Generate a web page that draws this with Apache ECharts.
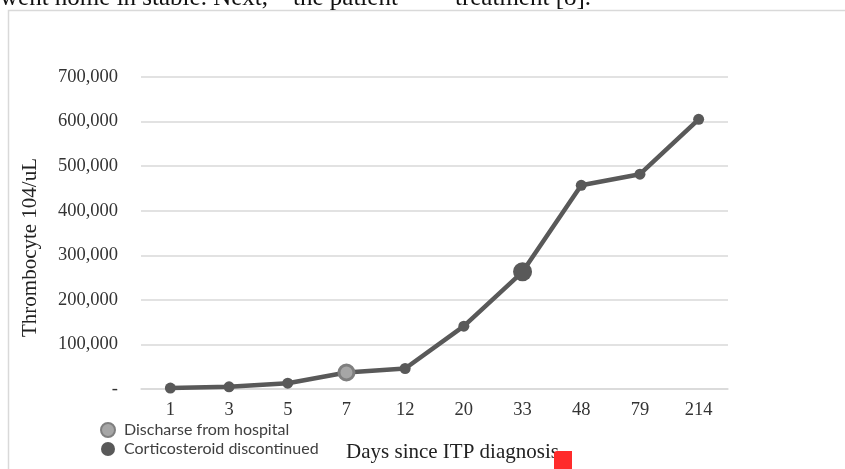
<!DOCTYPE html>
<html>
<head>
<meta charset="utf-8">
<script src="https://cdn.jsdelivr.net/npm/echarts@6/dist/echarts.min.js"></script>
<style>
  html, body { margin: 0; padding: 0; background: #fff; }
  #chart { width: 845px; height: 469px; }
</style>
</head>
<body>
<div id="chart"></div>
<script>
const days = ['1', '3', '5', '7', '12', '20', '33', '48', '79', '214'];
const thrombocytes = [2000, 5000, 13000, 37000, 46000, 141000, 263000, 457000, 482000, 605000];
const yTicks = { min: 0, max: 700000, step: 100000 };
const dischargeDay = '7';
const steroidStopDay = '33';

const serif = '"Liberation Serif", "DejaVu Serif", serif';
const valueAt = (day) => thrombocytes[days.indexOf(day)];

const chart = echarts.init(document.getElementById('chart'), null, { renderer: 'canvas' });

const option = {
  animation: false,
  backgroundColor: '#ffffff',
  grid: { left: 141, right: 117, top: 77, bottom: 80 },
  legend: {
    orient: 'vertical',
    left: 95,
    top: 417,
    itemWidth: 16,
    itemHeight: 14,
    itemGap: 3,
    icon: 'circle',
    data: ['Discharse from hospital', 'Corticosteroid discontinued'],
    textStyle: { fontFamily: 'Lato', fontSize: 16, color: '#404040', padding: [0, 0, 0, 3] },
  },
  xAxis: {
    type: 'category',
    data: days,
    name: 'Days since ITP diagnosis',
    nameLocation: 'middle',
    nameGap: 53,
    nameTextStyle: { fontFamily: serif, fontSize: 21, color: '#222', padding: [0, 0, 0, 36] },
    axisLine: { lineStyle: { color: '#d9d9d9', width: 1.5 } },
    axisTick: { show: false },
    axisLabel: { fontFamily: serif, fontSize: 18.5, color: '#333', margin: 12 },
  },
  yAxis: {
    type: 'value',
    min: yTicks.min,
    max: yTicks.max,
    interval: yTicks.step,
    name: 'Thrombocyte 104/uL',
    nameLocation: 'middle',
    nameGap: 100,
    nameTextStyle: { fontFamily: serif, fontSize: 21, color: '#222', padding: [0, 29, 0, 0] },
    axisLine: { show: false },
    axisTick: { show: false },
    splitLine: { lineStyle: { color: '#d9d9d9', width: 1.5 } },
    axisLabel: {
      fontFamily: serif,
      fontSize: 18.5,
      color: '#333',
      margin: 23,
      formatter: (v) => (v === 0 ? '-' : v.toLocaleString('en-US')),
    },
  },
  series: [
    {
      name: 'Thrombocyte',
      type: 'line',
      data: thrombocytes,
      symbol: 'circle',
      symbolSize: 11,
      lineStyle: { color: '#595959', width: 4.5 },
      itemStyle: { color: '#595959' },
      z: 2,
    },
    {
      name: 'Discharse from hospital',
      type: 'scatter',
      data: [[dischargeDay, valueAt(dischargeDay)]],
      symbol: 'circle',
      symbolSize: 15,
      itemStyle: { color: '#a6a6a6', borderColor: '#7f7f7f', borderWidth: 3, opacity: 1 },
      z: 3,
    },
    {
      name: 'Corticosteroid discontinued',
      type: 'scatter',
      data: [[steroidStopDay, valueAt(steroidStopDay)]],
      symbol: 'circle',
      symbolSize: 19,
      itemStyle: { color: '#595959', opacity: 1 },
      z: 3,
    },
  ],
  graphic: [
    {
      type: 'rect',
      shape: { x: 8.5, y: 10.5, width: 1000, height: 1000 },
      style: { fill: 'none', stroke: '#d9d9d9', lineWidth: 1.5 },
      silent: true,
    },
    {
      type: 'text',
      x: 0,
      y: -2,
      style: { text: 'went home in stable. Next,', font: '25px ' + serif, fill: '#111', verticalAlign: 'middle' },
    },
    {
      type: 'text',
      x: 293,
      y: -2,
      style: { text: 'the patient', font: '25px ' + serif, fill: '#111', verticalAlign: 'middle' },
    },
    {
      type: 'text',
      x: 455,
      y: -2,
      style: { text: 'treatment [8].', font: '25px ' + serif, fill: '#111', verticalAlign: 'middle' },
    },
    {
      type: 'rect',
      shape: { x: 554, y: 451, width: 18, height: 18, r: [3, 0, 0, 0] },
      style: { fill: '#ff2b2b' },
      z: 10,
    },
  ],
};

chart.setOption(option);
window.addEventListener('resize', () => chart.resize());
</script>
</body>
</html>
